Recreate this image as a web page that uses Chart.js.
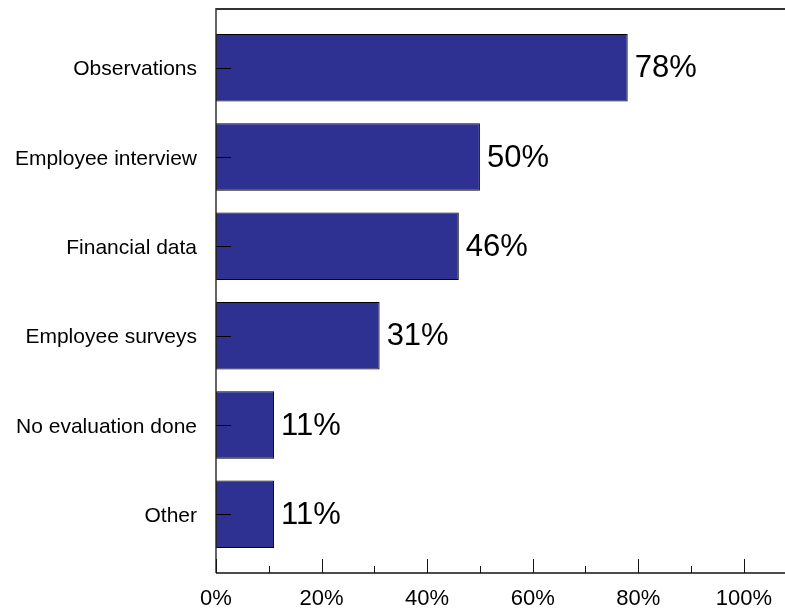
<!DOCTYPE html>
<html>
<head>
<meta charset="utf-8">
<title>Evaluation methods</title>
<script src="https://cdn.jsdelivr.net/npm/chart.js@4.4.1/dist/chart.umd.min.js"></script>
<style>
  html, body { margin: 0; padding: 0; background: #fff; }
  #wrap { width: 785px; height: 610px; position: relative; }
</style>
</head>
<body>
<div id="wrap"><canvas id="chart"></canvas></div>
<script>
const categories = [
  'Observations',
  'Employee interview',
  'Financial data',
  'Employee surveys',
  'No evaluation done',
  'Other'
];
const percentages = [78, 50, 46, 31, 11, 11];
const xTickValues = [0, 20, 40, 60, 80, 100];
const xMinorValues = [10, 30, 50, 70, 90];

const FONT = 'Arial, "Liberation Sans", sans-serif';
const BAR_COLOR = '#2e3192';
const FRAME_PAD = 14; // frame extends past the category band

// axis frame, tick marks and value labels
const framePlugin = {
  id: 'frame',
  afterDatasetsDraw(chart) {
    const { ctx, chartArea, scales } = chart;
    const x = scales.x, y = scales.y;
    const left = chartArea.left;
    const top = chartArea.top - FRAME_PAD;
    const bottom = chartArea.bottom + FRAME_PAD;
    const right = chart.width;

    ctx.save();
    // top border
    ctx.strokeStyle = '#333';
    ctx.lineWidth = 2;
    ctx.beginPath();
    ctx.moveTo(left, top);
    ctx.lineTo(right, top);
    ctx.stroke();
    // left axis
    ctx.lineWidth = 1.5;
    ctx.beginPath();
    ctx.moveTo(left, top - 1);
    ctx.lineTo(left, bottom);
    ctx.stroke();
    // bottom axis
    ctx.strokeStyle = '#111';
    ctx.lineWidth = 1.5;
    ctx.beginPath();
    ctx.moveTo(left, bottom);
    ctx.lineTo(right, bottom);
    ctx.stroke();

    // x tick marks, pointing into the plot
    ctx.lineWidth = 1;
    xTickValues.forEach(v => {
      const px = Math.round(x.getPixelForValue(v)) + 0.5;
      ctx.beginPath();
      ctx.moveTo(px, bottom);
      ctx.lineTo(px, bottom - 14);
      ctx.stroke();
    });
    xMinorValues.forEach(v => {
      const px = Math.round(x.getPixelForValue(v)) + 0.5;
      ctx.beginPath();
      ctx.moveTo(px, bottom);
      ctx.lineTo(px, bottom - 7);
      ctx.stroke();
    });

    // category tick marks
    ctx.strokeStyle = '#000';
    categories.forEach((c, i) => {
      const py = Math.round(y.getPixelForValue(i)) + 0.5;
      ctx.beginPath();
      ctx.moveTo(left, py);
      ctx.lineTo(left + 15, py);
      ctx.stroke();
    });

    // value labels at the bar ends
    ctx.fillStyle = '#000';
    ctx.font = '31px ' + FONT;
    ctx.textAlign = 'left';
    ctx.textBaseline = 'middle';
    chart.getDatasetMeta(0).data.forEach((bar, i) => {
      ctx.fillText(percentages[i] + '%', bar.x + 7, bar.y + 1);
    });
    ctx.restore();
  }
};

const noEdgePadding = scale => {
  scale.paddingLeft = 0;
  scale.paddingRight = 0;
  scale.paddingTop = 0;
  scale.paddingBottom = 0;
};

new Chart(document.getElementById('chart'), {
  type: 'bar',
  data: {
    labels: categories,
    datasets: [{
      data: percentages,
      backgroundColor: BAR_COLOR,
      borderColor: '#000',
      borderWidth: 1,
      borderSkipped: false,
      barPercentage: 0.755,
      categoryPercentage: 1
    }]
  },
  options: {
    indexAxis: 'y',
    responsive: true,
    maintainAspectRatio: false,
    animation: false,
    layout: { padding: { top: 23, right: 0, bottom: 0, left: 0 } },
    plugins: {
      legend: { display: false },
      tooltip: { enabled: false }
    },
    scales: {
      x: {
        min: 0,
        max: 107.8,
        grid: { display: false, drawTicks: false },
        border: { display: false },
        afterBuildTicks: scale => {
          scale.ticks = xTickValues.map(v => ({ value: v }));
        },
        afterFit: scale => {
          scale.height = 51;
          noEdgePadding(scale);
        },
        ticks: {
          padding: 27,
          color: '#000',
          font: { family: FONT, size: 22 },
          callback: v => v + '%'
        }
      },
      y: {
        grid: { display: false, drawTicks: false },
        border: { display: false },
        afterFit: scale => {
          scale.width = 216;
          noEdgePadding(scale);
        },
        ticks: {
          padding: 19,
          labelOffset: 2,
          color: '#000',
          font: { family: FONT, size: 21 }
        }
      }
    }
  },
  plugins: [framePlugin]
});
</script>
</body>
</html>
